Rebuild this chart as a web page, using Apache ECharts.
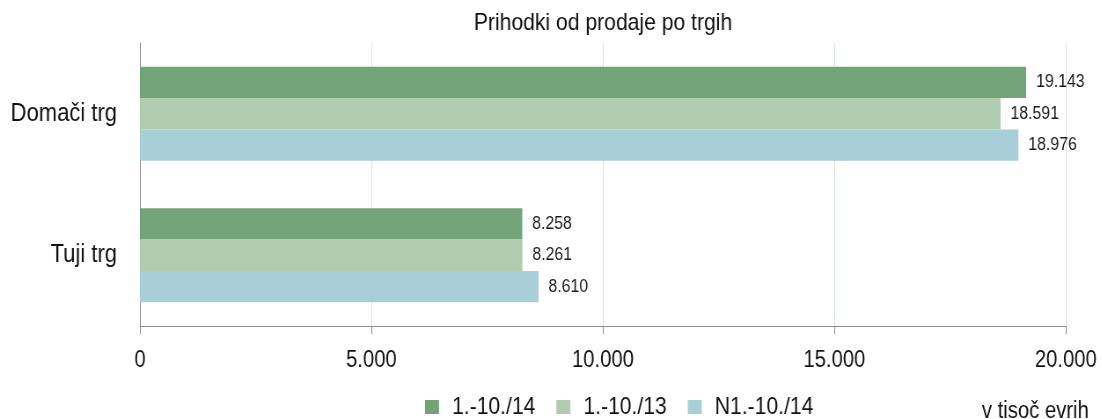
<!DOCTYPE html>
<html>
<head>
<meta charset="utf-8">
<script src="https://cdn.jsdelivr.net/npm/echarts@6/dist/echarts.min.js"></script>
<style>
  html, body { margin: 0; padding: 0; background: #fff; overflow: hidden; }
  /* original uses a narrow font, so the whole chart is drawn wider and squeezed */
  #chart { width: 1252px; height: 419px; transform: scaleX(0.88); transform-origin: 0 0; }
</style>
</head>
<body>
<div id="chart"></div>
<script>
// podatki
var categories = ["Domači trg", "Tuji trg"];
var seriesNames = ["1.-10./14", "1.-10./13", "N1.-10./14"];
var val14 = [19143, 8258];
var val13 = [18591, 8261];
var valN14 = [18976, 8610];
var colors = ["#72a478", "#b0cdaf", "#a8ced7"];

var font = "Liberation Sans, Arial, sans-serif";
var sx = 0.88; // horizontal squeeze
function px(v) { return v / sx; }

function fmt(v) {
  // slovenski zapis tisočic s piko
  return String(v).replace(/\B(?=(\d{3})+(?!\d))/g, ".");
}

var chart = echarts.init(document.getElementById("chart"));

function makeSeries(name, data, color) {
  return {
    name: name,
    type: "bar",
    data: data,
    barGap: 0,
    barCategoryGap: "33.5%",
    itemStyle: { color: color },
    label: {
      show: true,
      position: "right",
      distance: px(10),
      color: "#1a1a1a",
      fontFamily: font,
      fontSize: 18,
      formatter: function (p) { return fmt(p.value); }
    }
  };
}

var option = {
  animation: false,
  color: colors,
  title: {
    text: "Prihodki od prodaje po trgih",
    left: px(603),
    textAlign: "center",
    top: 11,
    padding: 0,
    textStyle: { fontFamily: font, fontSize: 24, fontWeight: "normal", color: "#111" }
  },
  grid: { left: px(140), right: px(36), top: 43, bottom: 93 },
  xAxis: {
    type: "value",
    min: 0,
    max: 20000,
    interval: 5000,
    axisLine: { show: true, lineStyle: { color: "#8c8c8c", width: 1 } },
    axisTick: { show: true, length: 8, lineStyle: { color: "#8c8c8c" } },
    axisLabel: {
      margin: 23,
      color: "#111",
      fontFamily: font,
      fontSize: 23,
      formatter: function (v) { return fmt(v); }
    },
    splitLine: { show: true, lineStyle: { color: "#d6e6d6", width: 1 } }
  },
  yAxis: {
    type: "category",
    inverse: true,
    data: categories,
    axisLine: { show: true, lineStyle: { color: "#8c8c8c", width: 1 } },
    axisTick: { show: false },
    axisLabel: { margin: px(23), color: "#111", fontFamily: font, fontSize: 25 }
  },
  legend: {
    left: px(425),
    top: 395,
    padding: 0,
    itemWidth: px(14),
    itemHeight: 14,
    itemGap: px(21),
    icon: "rect",
    data: seriesNames,
    textStyle: { fontFamily: font, fontSize: 24, color: "#111", padding: [0, 0, 0, px(13) - 5] }
  },
  graphic: [{
    type: "text",
    right: px(13),
    top: 400,
    style: { text: "v tisoč evrih", fontFamily: font, fontSize: 23, fill: "#111" }
  }],
  series: [
    makeSeries(seriesNames[0], val14, colors[0]),
    makeSeries(seriesNames[1], val13, colors[1]),
    makeSeries(seriesNames[2], valN14, colors[2])
  ]
};

chart.setOption(option);
</script>
</body>
</html>
